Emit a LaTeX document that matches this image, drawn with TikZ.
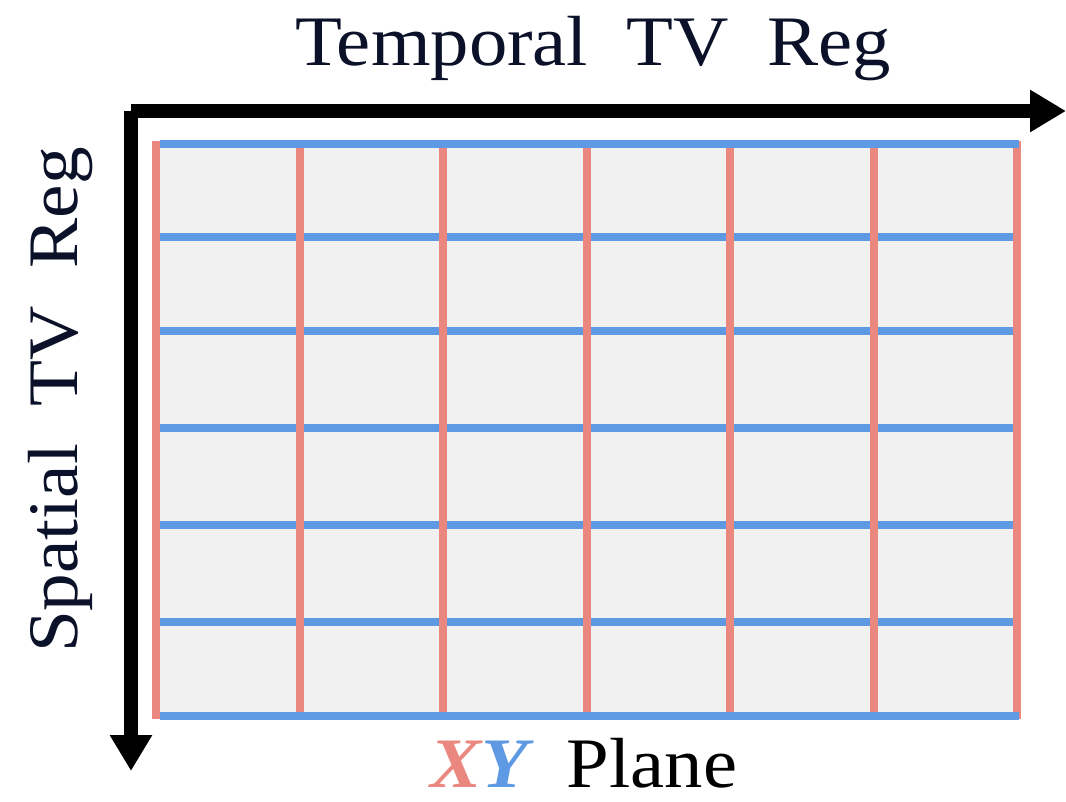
\documentclass[tikz,border=0pt]{standalone}
\usepackage{fontspec}
\setmainfont{Liberation Serif}
\usetikzlibrary{arrows.meta}
\definecolor{gridred}{HTML}{EA8880}
\definecolor{gridblue}{HTML}{5E9AE4}
\definecolor{cellgray}{HTML}{F1F1F1}
\definecolor{navy}{HTML}{0A1128}
\tikzset{
  axisline/.style={line width=13.5pt, black, line cap=butt, -{Triangle[length=36pt,width=40pt]}},
  hline/.style={line width=8pt, gridblue},
  vline/.style={line width=8pt, gridred},
  lbl/.style={font=\fontsize{71}{80}\selectfont, text=navy, inner sep=0pt, anchor=base},
}
\begin{document}
\begin{tikzpicture}[x=1pt,y=-1pt]
\useasboundingbox (0,0) rectangle (1066,802);
% grid background
\fill[cellgray] (157,144) rectangle (1017,716);
\coordinate (c) at (131,111);
\coordinate (xe) at (1066,111);
\coordinate (ye) at (131,771);
% inner blue lines
\foreach \y/\n in {237/b1,331/b2,428/b3,525/b4,622/b5} {
  \coordinate (\n l) at (157,\y);
  \coordinate (\n r) at (1017,\y);
  \draw[hline] (\n l) -- (\n r);
}
% red lines
\foreach \x/\n in {156/r0,299.5/r1,443/r2,586.5/r3,730/r4,873.5/r5,1017/r6} {
  \coordinate (\n t) at (\x,141);
  \coordinate (\n b) at (\x,719);
  \draw[vline] (\n t) -- (\n b);
}
% top and bottom blue lines
\coordinate (tl) at (160,144); \coordinate (tr) at (1019,144);
\coordinate (bl) at (160,716); \coordinate (br) at (1019,716);
\draw[hline] (tl) -- (tr);
\draw[hline] (bl) -- (br);
% axes
\draw[axisline] (c) -- (xe);
\draw[axisline] (c) -- (ye);
% labels
\node[lbl] (tlab) at (593,66) {\scalebox{1.08}[1]{Temporal\ \ TV\ \ Reg}};
\node[lbl, rotate=90] (slab) at (77,400) {\scalebox{1.06}[1]{Spatial\ \ TV\ \ Reg}};
\node[lbl, text=black, text depth=0pt] (plab) at (584,787) {\scalebox{1.08}[1]{\textbf{\textit{\color{gridred}X\color{gridblue}Y}}\ \ Plane}};
\end{tikzpicture}
\end{document}
